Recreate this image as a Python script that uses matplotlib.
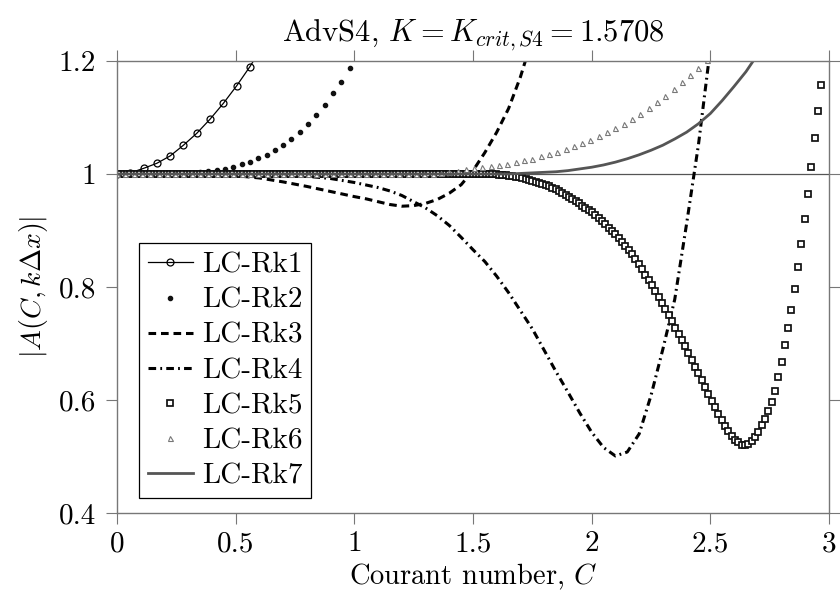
import numpy as np
import matplotlib
matplotlib.use("Agg")
import matplotlib.pyplot as plt

plt.rcParams['font.family'] = 'serif'
plt.rcParams['font.serif'] = ['cmr10']
plt.rcParams['mathtext.fontset'] = 'cm'
plt.rcParams['axes.formatter.use_mathtext'] = True
plt.rcParams['lines.scale_dashes'] = False

# --- data ---
# LC-Rk1 (circles, step ~0.056)
c1 = [0.0, 0.056, 0.112, 0.168, 0.224, 0.28, 0.336, 0.392, 0.448, 0.504, 0.56, 0.616]
a1 = [1.0, 1.002, 1.010, 1.019, 1.032, 1.051, 1.072, 1.097, 1.125, 1.156, 1.190, 1.228]

# LC-Rk2 (dots, step 0.035)
a2 = [1.000, 1.000, 1.000, 1.000, 1.000, 1.000, 1.001, 1.001, 1.002, 1.002,
      1.003, 1.005, 1.007, 1.009, 1.013, 1.017, 1.022, 1.028, 1.034, 1.042,
      1.051, 1.062, 1.075, 1.088, 1.104, 1.122, 1.143, 1.163, 1.187, 1.212]
c2 = 0.035 * np.arange(len(a2))

# LC-Rk3 (dashed)
c3 = [0.0, 0.1, 0.2, 0.3, 0.4, 0.5, 0.6, 0.7, 0.8, 0.9, 1.0, 1.05, 1.1, 1.15,
      1.2, 1.25, 1.3, 1.35, 1.4, 1.45, 1.5, 1.55, 1.6, 1.65, 1.7, 1.75]
a3 = [1.000, 1.000, 1.000, 1.000, 0.999, 0.997, 0.993, 0.986, 0.978, 0.969,
      0.960, 0.956, 0.951, 0.946, 0.943, 0.944, 0.948, 0.955, 0.966, 0.981,
      1.006, 1.038, 1.074, 1.116, 1.172, 1.240]

# LC-Rk4 (dash-dot)
c4 = [0.0, 0.2, 0.4, 0.5, 0.6, 0.7, 0.8, 0.9, 1.0, 1.1, 1.15, 1.2, 1.25, 1.3,
      1.35, 1.4, 1.45, 1.5, 1.55, 1.6, 1.65, 1.7, 1.75, 1.8, 1.85, 1.9, 1.95,
      2.0, 2.05, 2.1, 2.15, 2.2, 2.25, 2.3, 2.35, 2.4, 2.45, 2.5]
a4 = [1.000, 1.000, 1.000, 1.000, 0.999, 0.998, 0.996, 0.992, 0.985, 0.976,
      0.970, 0.962, 0.951, 0.940, 0.926, 0.909, 0.888, 0.866, 0.845, 0.819,
      0.790, 0.758, 0.726, 0.688, 0.650, 0.614, 0.577, 0.543, 0.516, 0.501,
      0.508, 0.540, 0.608, 0.690, 0.778, 0.912, 1.052, 1.222]

# LC-Rk5 (squares, step 0.014)
a5 = [1.0] * 114 + [
    1.000, 0.999, 0.999, 0.998, 0.997, 0.996, 0.995, 0.994, 0.993, 0.992,
    0.990, 0.988, 0.986, 0.984, 0.982, 0.980, 0.978, 0.976, 0.973, 0.970,
    0.967, 0.963, 0.960, 0.956, 0.952, 0.948, 0.944, 0.940, 0.936, 0.932,
    0.927, 0.922, 0.917, 0.911, 0.905, 0.899, 0.893, 0.887, 0.880, 0.873,
    0.866, 0.858, 0.850, 0.841, 0.832, 0.822, 0.812, 0.803, 0.793, 0.782,
    0.772, 0.761, 0.750, 0.739, 0.728, 0.717, 0.706, 0.695, 0.683, 0.671,
    0.659, 0.647, 0.635, 0.623, 0.611, 0.599, 0.587, 0.575, 0.564, 0.554,
    0.545, 0.537, 0.530, 0.525, 0.521, 0.520, 0.523, 0.528, 0.535, 0.544,
    0.555, 0.566, 0.580, 0.596, 0.616, 0.640, 0.667, 0.697, 0.727, 0.760,
    0.797, 0.836, 0.877, 0.920, 0.964, 1.012, 1.063, 1.112, 1.157]
c5 = 0.014 * np.arange(len(a5))

# LC-Rk6 (triangles, step 0.035)
a6 = [1.0] * 39 + [
    1.002, 1.004, 1.006, 1.008,
    1.010, 1.012, 1.014, 1.016, 1.018, 1.021, 1.024, 1.027, 1.031, 1.035,
    1.039, 1.044, 1.049, 1.054, 1.060, 1.067, 1.074, 1.081, 1.089, 1.098,
    1.107, 1.117, 1.127, 1.138, 1.150, 1.162, 1.175, 1.188, 1.202]
c6 = 0.035 * np.arange(len(a6))

# LC-Rk7 (grey line)
c7 = [0.0, 0.5, 1.0, 1.5, 1.6, 1.65, 1.7, 1.75, 1.8, 1.85, 1.9, 1.95, 2.0,
      2.05, 2.1, 2.15, 2.2, 2.25, 2.3, 2.35, 2.4, 2.45, 2.5, 2.55, 2.6, 2.65, 2.7]
a7 = [1.000, 1.000, 1.000, 1.000, 1.000, 1.000, 1.001, 1.002, 1.003, 1.004,
      1.006, 1.009, 1.012, 1.016, 1.021, 1.027, 1.034, 1.042, 1.051, 1.062,
      1.074, 1.089, 1.107, 1.130, 1.155, 1.181, 1.212]

x_ticks = [0, 0.5, 1, 1.5, 2, 2.5, 3]
x_labels = ['0', '0.5', '1', '1.5', '2', '2.5', '3']
y_ticks = [0.4, 0.6, 0.8, 1.0, 1.2]
y_labels = ['0.4', '0.6', '0.8', '1', '1.2']

fig = plt.figure(figsize=(8.4, 5.98), dpi=100)
ax = fig.add_axes([0.1393, 0.1421, 0.8476, 0.7559])

ax.axhline(1.0, color='#555555', lw=0.9, zorder=1)

ax.plot(c1, a1, '-', color='black', lw=0.9, marker='o', ms=5, mfc='none',
        mec='black', mew=0.9, label='LC-Rk1')
ax.plot(c2, a2, ls='none', marker='o', ms=3, color='#111111', label='LC-Rk2')
ax.plot(c3, a3, color='black', lw=2.2, dashes=(5.5, 3.5), label='LC-Rk3')
ax.plot(c4, a4, color='black', lw=2.2, dashes=(5.5, 3, 1.3, 3), label='LC-Rk4')
ax.plot(c5, a5, ls='none', marker='s', ms=3.8, mfc='white', mec='#111111',
        mew=1.25, label='LC-Rk5')
ax.plot(c6, a6, ls='none', marker='^', ms=3.6, mfc='white', mec='#777777',
        mew=0.8, label='LC-Rk6')
ax.plot(c7, a7, '-', color='#555555', lw=2.0, label='LC-Rk7')

ax.set_xlim(0, 3)
ax.set_ylim(0.4, 1.2)
ax.set_xticks(x_ticks)
ax.set_xticklabels(x_labels)
ax.set_yticks(y_ticks)
ax.set_yticklabels(y_labels)
ax.tick_params(direction='out', length=8, width=0.8, color='#777777',
               top=True, right=True, labelsize=21)
ax.tick_params(axis='x', pad=5)
ax.tick_params(axis='y', pad=7)
for s in ax.spines.values():
    s.set_color('#777777')
    s.set_linewidth(1.0)

ax.set_title(r'AdvS4, $K = K_{crit,S4} = 1.5708$', fontsize=22, pad=14)
ax.set_xlabel(r'Courant number, $C$', fontsize=20.5, labelpad=3)
ax.set_ylabel(r'$|A(C, k\Delta x)|$', fontsize=20, labelpad=6)

leg = ax.legend(loc='lower left', bbox_to_anchor=(0.031, 0.0325),
                borderaxespad=0, fontsize=21, numpoints=1, fancybox=False,
                framealpha=1, edgecolor='black', handlelength=1.55,
                handletextpad=0.3, labelspacing=0.3, borderpad=0.3)
leg.get_frame().set_linewidth(0.9)

fig.savefig('out.png', dpi=100)
